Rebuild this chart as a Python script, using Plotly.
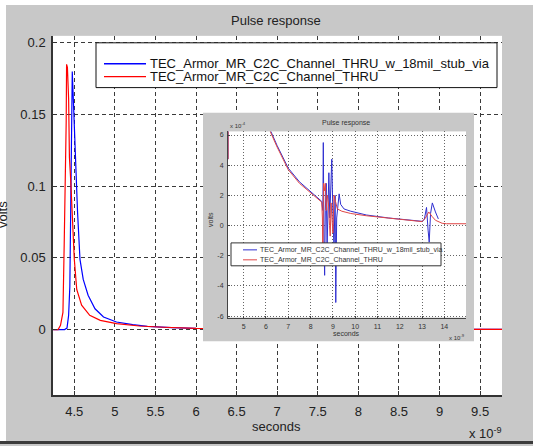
import plotly.graph_objects as go

W, H = 533, 446

# ---------------- data (time in ns, main volts; inset volts x1e-4) ----------------
red_t = [4.24, 4.30, 4.33, 4.36, 4.375, 4.39, 4.40, 4.405, 4.415, 4.43, 4.44, 4.456, 4.48,
         4.50, 4.53, 4.59, 4.69, 4.82, 5.02, 5.3, 5.6, 6.0, 7.0, 8.0, 9.0, 9.8]
red_v = [0, 0, 0.003, 0.012, 0.058, 0.10, 0.145, 0.185, 0.183, 0.161, 0.12, 0.104, 0.07,
         0.049, 0.028, 0.017, 0.0099, 0.0064, 0.0041, 0.0025, 0.0016, 0.0008, 0.00036,
         0.00022, 0.00012, 0.0001]

blue_t = [4.24, 4.38, 4.41, 4.43, 4.445, 4.455, 4.465, 4.475, 4.485, 4.50, 4.51, 4.52, 4.54,
          4.57, 4.61, 4.67, 4.755, 4.86, 5.02, 5.22, 5.4, 5.7, 6.0, 7.0, 8.0, 9.0, 9.8]
blue_v = [0, 0, 0.001, 0.01, 0.03, 0.10, 0.168, 0.18, 0.165, 0.14, 0.12, 0.104, 0.082,
          0.049, 0.035, 0.024, 0.0145, 0.0088, 0.0053, 0.0035, 0.0022, 0.0013, 0.0008,
          0.00038, 0.00022, 0.00012, 0.0001]

inset_blue_t = [4.30, 4.34, 4.6, 5.2, 5.8, 6.0, 6.2, 6.5, 7.0, 7.5, 8.0, 8.3, 8.5, 8.55, 8.57,
                8.60, 8.63, 8.66, 8.70, 8.74, 8.78, 8.82, 8.86, 8.90, 8.95, 9.00, 9.05, 9.10,
                9.13, 9.17, 9.22, 9.28, 9.35, 9.5, 9.8, 10.5, 11.5, 12.5, 13.0, 13.1, 13.2,
                13.27, 13.32, 13.38, 13.46, 13.6, 13.73]
inset_blue_v = [4.4, 30, 300, 30, 10, 7.6, 6.3, 5.3, 3.8, 2.9, 2.25, 1.9, 1.6, 1.0, 5.5,
                -1.0, -3.3, 1.0, 2.8, -1.5, 1.5, 3.5, 0.5, 2.5, 4.4, 0.8, -1.5, 2.0,
                -5.1, 0.5, 1.5, 2.1, 1.4, 1.1, 0.95, 0.7, 0.5, 0.35, 0.28, 0.4, 1.2,
                -0.3, -1.1, 0.8, 1.5, 0.9, 0.44]

inset_red_t = [4.30, 4.33, 4.5, 5.2, 5.8, 6.0, 6.2, 6.5, 7.0, 7.5, 8.0, 8.3, 8.5, 8.53, 8.55,
               8.58, 8.62, 8.66, 8.70, 8.75, 8.80, 8.85, 8.88, 8.92, 8.96, 9.00, 9.05, 9.10,
               9.15, 9.2, 9.4, 9.8, 10.5, 11.5, 12.5, 13.0, 13.15, 13.3, 13.45, 13.6, 13.9,
               14.1, 15.2]
inset_red_v = [4.4, 30, 450, 30, 10, 7.4, 6.2, 5.2, 3.7, 2.8, 2.2, 1.85, 1.55, 0.5, -2.5,
               2.8, 2.3, 2.8, 1.0, 2.0, 1.5, 0.0, -0.7, 1.5, 0.3, -0.5, 2.0, 1.7,
               1.3, 1.1, 0.95, 0.8, 0.65, 0.48, 0.33, 0.26, 0.5, 0.9, 0.6, 0.35, 0.15,
               0.12, 0.12]

series_names = ["TEC_Armor_MR_C2C_Channel_THRU_w_18mil_stub_via", "TEC_Armor_MR_C2C_Channel_THRU"]
main_xticks = [4.5, 5, 5.5, 6, 6.5, 7, 7.5, 8, 8.5, 9, 9.5]
main_yticks = [0, 0.05, 0.1, 0.15, 0.2]
inset_xticks = [5, 6, 7, 8, 9, 10, 11, 12, 13, 14]
inset_yticks = [-6, -4, -2, 0, 2, 4, 6]

# ---------------- layout helpers ----------------
def px(x):
    return x / W

def py(y):
    return 1 - y / H

FONT = "Arial, Liberation Sans, sans-serif"
GRAY = "#c8c8c8"
BLUE = "#0000ff"
RED = "#ff0000"
IBLUE = "#2f2fd0"
IRED = "#e04646"

fig = go.Figure()

fig.add_trace(go.Scatter(x=blue_t, y=blue_v, mode="lines", name=series_names[0],
                         line=dict(color=BLUE, width=1.2), xaxis="x", yaxis="y", showlegend=False))
fig.add_trace(go.Scatter(x=red_t, y=red_v, mode="lines", name=series_names[1],
                         line=dict(color=RED, width=1.2), xaxis="x", yaxis="y", showlegend=False))
# frame subplot for inset (gray screenshot background)
fig.add_trace(go.Scatter(x=[0], y=[0], mode="markers", marker=dict(opacity=0),
                         xaxis="x2", yaxis="y2", showlegend=False, hoverinfo="skip"))
fig.add_trace(go.Scatter(x=inset_blue_t, y=inset_blue_v, mode="lines", name=series_names[0],
                         line=dict(color=IBLUE, width=1), xaxis="x3", yaxis="y3", showlegend=False))
fig.add_trace(go.Scatter(x=inset_red_t, y=inset_red_v, mode="lines", name=series_names[1],
                         line=dict(color=IRED, width=1), xaxis="x3", yaxis="y3", showlegend=False))

grid_main = dict(showgrid=True, gridcolor="#3a3a3a", gridwidth=1, griddash="4px,3px")
grid_inset = dict(showgrid=True, gridcolor="#666666", gridwidth=1, griddash="1px,2px")

fig.update_layout(
    width=W, height=H,
    margin=dict(l=0, r=0, t=0, b=0),
    paper_bgcolor=GRAY, plot_bgcolor="white",
    showlegend=False,
    font=dict(family=FONT, color="#222"),
    xaxis=dict(domain=[px(53), px(502)], range=[4.2375, 9.77], tickvals=main_xticks,
               ticktext=[f"{v:g}" for v in main_xticks], ticks="inside", ticklen=4,
               tickcolor="#333", showline=True, linecolor="#333", linewidth=1.5,
               zeroline=False, tickfont=dict(size=13, family=FONT, color="#222"),
               ticklabelstandoff=3, anchor="y", **grid_main),
    yaxis=dict(domain=[py(397), py(36)], range=[-0.0458, 0.2049], tickvals=main_yticks,
               ticktext=[f"{v:g}" for v in main_yticks], ticks="inside", ticklen=4,
               tickcolor="#333", showline=True, linecolor="#333", linewidth=1.5,
               zeroline=False, tickfont=dict(size=13, family=FONT, color="#222"),
               ticklabelstandoff=3, anchor="x", **grid_main),
    xaxis2=dict(domain=[px(203), px(474)], range=[0, 1], visible=False, anchor="y2",
                fixedrange=True),
    yaxis2=dict(domain=[py(343), py(113)], range=[0, 1], visible=False, anchor="x2",
                fixedrange=True),
    xaxis3=dict(domain=[px(228), px(466)], range=[4.296, 14.97], tickvals=inset_xticks,
                ticktext=[str(v) for v in inset_xticks], ticks="inside", ticklen=2,
                tickcolor="#444", showline=True, linecolor="#444", linewidth=1,
                zeroline=False, tickfont=dict(size=7, family=FONT, color="#333"),
                ticklabelstandoff=2, anchor="y3", **grid_inset),
    yaxis3=dict(domain=[py(319), py(132)], range=[-6.1, 6.24], tickvals=inset_yticks,
                ticktext=[str(v) for v in inset_yticks], ticks="inside", ticklen=2,
                tickcolor="#444", showline=True, linecolor="#444", linewidth=1,
                zeroline=False, tickfont=dict(size=7, family=FONT, color="#333"),
                ticklabelstandoff=2, anchor="x3", **grid_inset),
)

shapes = []
# white margins at top/left and dark bottom edge
shapes.append(dict(type="rect", xref="paper", yref="paper", x0=0, x1=1, y0=py(5), y1=1,
                   fillcolor="white", line=dict(width=0), layer="below"))
shapes.append(dict(type="rect", xref="paper", yref="paper", x0=0, x1=px(6), y0=0, y1=1,
                   fillcolor="white", line=dict(width=0), layer="below"))
shapes.append(dict(type="rect", xref="paper", yref="paper", x0=0, x1=1, y0=0, y1=py(443),
                   fillcolor="#3c3c3c", line=dict(width=0), layer="below"))
# inset gray frame (drawn inside inset frame subplot)
shapes.append(dict(type="rect", xref="x2", yref="y2", x0=0, x1=1, y0=0, y1=1,
                   fillcolor=GRAY, line=dict(width=0), layer="below"))
# main legend
shapes.append(dict(type="rect", xref="paper", yref="paper", x0=px(96), x1=px(497),
                   y0=py(88), y1=py(43), fillcolor="white", line=dict(color="#111", width=1)))
leg_main_y = [64, 77]
for yy, col in zip(leg_main_y, [BLUE, RED]):
    shapes.append(dict(type="line", xref="paper", yref="paper", x0=px(104), x1=px(146),
                       y0=py(yy), y1=py(yy), line=dict(color=col, width=1.4)))
# inset legend
shapes.append(dict(type="rect", xref="paper", yref="paper", x0=px(231), x1=px(441),
                   y0=py(267), y1=py(244), fillcolor="white", line=dict(color="#333", width=1)))
leg_in_y = [251, 261]
for yy, col in zip(leg_in_y, [IBLUE, IRED]):
    shapes.append(dict(type="line", xref="paper", yref="paper", x0=px(243), x1=px(257),
                       y0=py(yy), y1=py(yy), line=dict(color=col, width=1)))
fig.update_layout(shapes=shapes)

ann = []
def text(t, x, y, size, xanchor="center", angle=0, color="#222"):
    ann.append(dict(text=t, x=px(x), y=py(y), xref="paper", yref="paper", showarrow=False,
                    xanchor=xanchor, yanchor="middle", textangle=angle,
                    font=dict(size=size, family=FONT, color=color)))

text("Pulse response", 276, 21, 13)
text("seconds", 276, 428, 13)
text("x 10<sup>-9</sup>", 467, 435, 13, xanchor="left")
text("volts", 2, 216, 13, angle=-90)
for yy, name in zip(leg_main_y, series_names):
    text(name, 148, yy, 13, xanchor="left", color="#111")

text("Pulse response", 346, 124, 7, color="#333")
text("x 10<sup>-4</sup>", 228, 126, 6, xanchor="left", color="#333")
text("seconds", 346, 335, 7, color="#333")
text("x 10<sup>-9</sup>", 447, 339, 6, xanchor="left", color="#333")
text("volts", 210, 221, 7, angle=-90, color="#333")
for yy, name in zip(leg_in_y, series_names):
    text(name, 258, yy, 7, xanchor="left", color="#333")

fig.update_layout(annotations=ann)

fig.write_html("out.html",
               config={"displayModeBar": False},
               post_script="document.body.style.margin='0px';"
                           "document.body.style.overflow='hidden';")
